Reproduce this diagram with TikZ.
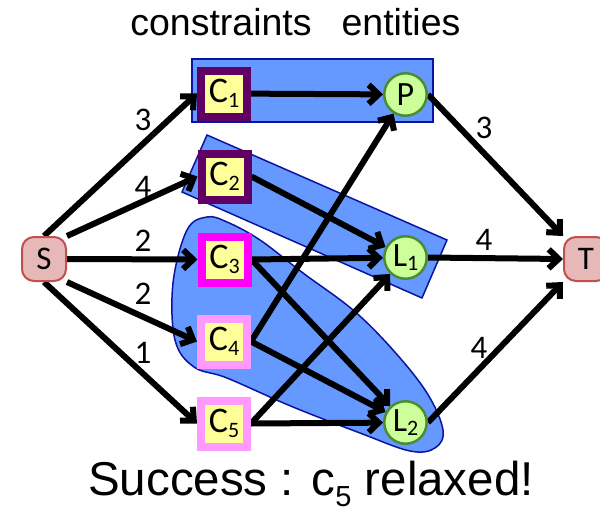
\documentclass[tikz,border=0pt]{standalone}
\usepackage{fontspec}
\setmainfont{Liberation Sans}
\newfontfamily\calib{Carlito}
\usetikzlibrary{arrows.meta}

\definecolor{grpfill}{RGB}{102,153,255}
\definecolor{grpline}{RGB}{10,20,160}
\definecolor{cyellow}{RGB}{255,255,153}
\definecolor{cdark}{RGB}{96,0,100}
\definecolor{cmag}{RGB}{255,0,255}
\definecolor{cpink}{RGB}{255,153,255}
\definecolor{efill}{RGB}{204,255,153}
\definecolor{eline}{RGB}{75,140,50}
\definecolor{tfill}{RGB}{230,185,184}
\definecolor{tline}{RGB}{192,80,77}

\newcommand\lowsub[1]{\raisebox{-4.5pt}{\fontsize{22}{22}\selectfont #1}}

\pgfdeclarelayer{groups}
\pgfdeclarelayer{flows}
\pgfsetlayers{groups,flows,main}

\tikzset{
  cbox/.style={rectangle, minimum size=46pt, inner sep=0pt, line width=8pt,
    fill=cyellow, font=\calib\fontsize{36}{36}\selectfont},
  ent/.style={circle, minimum size=42.5pt, inner sep=0pt, line width=2.5pt,
    draw=eline, fill=efill, font=\calib\fontsize{34}{34}\selectfont},
  term/.style={rectangle, rounded corners=12pt, minimum width=44pt,
    minimum height=44pt, inner sep=0pt, line width=2pt, draw=tline,
    fill=tfill, font=\calib\fontsize{33}{33}\selectfont},
  flow/.style={line width=6pt, -{Straight Barb[length=10pt,width=19pt]}},
  weightlbl/.style={font=\calib\fontsize{33}{33}\selectfont, inner sep=0pt},
  grp/.style={fill=grpfill, draw=grpline, line width=1.5pt},
}

\begin{document}
\begin{tikzpicture}[x=1pt, y=-1pt]
\useasboundingbox (0,0) rectangle (600,514);

% headings
\node[anchor=base, font=\fontsize{37.5}{37.5}\selectfont] (hcons) at (221,35) {constraints};
\node[anchor=base, font=\fontsize{37.5}{37.5}\selectfont] (hent) at (401,35) {entities};

% source and sink
\node[term] (S) at (44,259) {S};
\node[term] (T) at (586,259) {T};

% constraint boxes
\node[cbox, draw=cdark] (C1) at (224,93.5) {C\lowsub{1}};
\node[cbox, draw=cdark] (C2) at (224.5,176.5) {C\lowsub{2}};
\node[cbox, draw=cmag]  (C3) at (224.5,259.5) {C\lowsub{3}};
\node[cbox, draw=cpink] (C4) at (224,341.5) {C\lowsub{4}};
\node[cbox, draw=cpink] (C5) at (224,423.5) {C\lowsub{5}};

% entities
\node[ent] (P)  at (405.5,94.5) {P};
\node[ent] (L1) at (405.5,257.5) {L\lowsub{1}};
\node[ent] (L2) at (405.5,422.5) {L\lowsub{2}};

% groups
\begin{pgfonlayer}{groups}
  \draw[grp] (192,59) rectangle (433,122);
  \draw[grp] (207,135) -- (447,240) -- (422,298) -- (182,192) -- cycle;
  \draw[grp] plot[smooth cycle, tension=0.6] coordinates {
    (207,217) (227,222) (260,240) (303,273) (353,310) (393,350)
    (427,393) (443,430) (435,448) (410,451) (360,433) (293,407)
    (227,378) (194,367) (175,340) (173,283) (187,230)};
\end{pgfonlayer}

% flows with their capacities
\begin{pgfonlayer}{flows}
  \draw[flow] (S.north) -- (C1.west) node[weightlbl, at={(143,120)}] {3};
  \draw[flow] (S.north east) -- (C2.west) node[weightlbl, at={(143,187)}] {4};
  \draw[flow] (S.east) -- (C3.west) node[weightlbl, at={(143,241)}] {2};
  \draw[flow] (S.south east) -- (C4.west) node[weightlbl, at={(143,294)}] {2};
  \draw[flow] (S.south) -- (C5.west) node[weightlbl, at={(143,353)}] {1};

  \draw[flow] (C1) -- (P);
  \draw[flow] (C2.east) -- (L1);
  \draw[flow] (C3.east) -- (L1);
  \draw[flow] (C3.east) -- (L2);
  \draw[flow] (C4.east) -- (P);
  \draw[flow] (C4.east) -- (L2);
  \draw[flow] (C5.east) -- (L1);
  \draw[flow] (C5.east) -- (L2);

  \draw[flow] (P.east) -- (T.north west) node[weightlbl, at={(484,128)}] {3};
  \draw[flow] (L1.east) -- (T.west) node[weightlbl, at={(484,240)}] {4};
  \draw[flow] (L2.east) -- (T.south west) node[weightlbl, at={(479,348)}] {4};
\end{pgfonlayer}

% result
\node[anchor=base, inner sep=0pt, font=\fontsize{47.5}{47.5}\selectfont] (res) at (311,495)
  {Success : c\raisebox{-11pt}{\fontsize{29}{29}\selectfont 5} relaxed!};
\end{tikzpicture}
\end{document}
